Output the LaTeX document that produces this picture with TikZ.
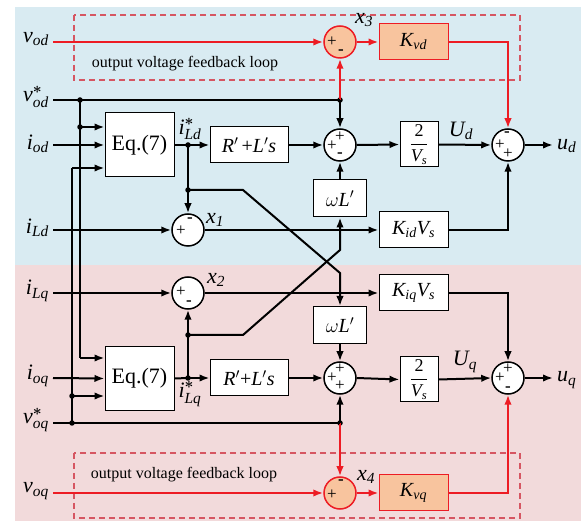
\documentclass[tikz,border=0pt]{standalone}
\usepackage{fix-cm}
\usepackage{amsmath}
\usepackage{fontspec}
\setmainfont{Liberation Serif}
\usetikzlibrary{arrows.meta,calc}
\definecolor{bgblue}{RGB}{217,235,242}
\definecolor{bgpink}{RGB}{242,218,219}
\definecolor{lred}{RGB}{237,28,36}
\definecolor{boxorange}{RGB}{248,196,158}
\definecolor{dashred}{RGB}{214,86,98}
\newcommand{\sg}[2]{$\textit{#1}_{\textit{#2}}$}
\newcommand{\sgs}[2]{$\textit{#1}^{\boldsymbol{\ast}}_{\textit{#2}}$}
\begin{document}
\begin{tikzpicture}[x=1pt,y=-1pt,
 blk/.style={draw=black, fill=white, line width=1pt, inner sep=0pt, font=\fontsize{20}{22}\selectfont},
 rblk/.style={blk, draw=lred, fill=boxorange},
 sumn/.style={circle, draw=black, fill=white, line width=1.5pt, minimum size=32pt, inner sep=0pt},
 rsum/.style={sumn, draw=lred, fill=boxorange},
 sgn/.style={inner sep=0pt, font=\fontsize{17}{17}\selectfont},
 lbl/.style={inner sep=0pt, font=\fontsize{22}{24}\selectfont},
 wire/.style={line width=2pt, draw=black},
 rwire/.style={line width=2pt, draw=lred},
 arr/.style={-{Latex[length=10pt,width=7.5pt]}},
 jdot/.style={circle, fill=black, inner sep=0pt, minimum size=5.5pt},
 fbbox/.style={draw=dashred, line width=1.1pt, dash pattern=on 6pt off 4pt},
 note/.style={inner sep=0pt, font=\fontsize{16}{18}\selectfont}
]
\useasboundingbox (0,0) rectangle (587,521);
\fill[bgblue] (15,7) rectangle (581,265);
\fill[bgpink] (15,265) rectangle (581,521);
% feedback loop frames
\draw[fbbox] (74,15) rectangle (520,80);
\draw[fbbox] (74,453) rectangle (520,518);
\node[note] (nt1) at (185,64) {output voltage feedback loop};
\node[note] (nt2) at (184,475) {output voltage feedback loop};

% input labels
\node[lbl, anchor=east] (lvod) at (49,39) {\sg{v}{od}};
\node[lbl, anchor=east] (lvsd) at (49,97) {\sgs{v}{od}};
\node[lbl, anchor=east] (liod) at (49,144) {\sg{i}{od}};
\node[lbl, anchor=east] (lild) at (49,228) {\sg{i}{Ld}};
\node[lbl, anchor=east] (lilq) at (49,291) {\sg{i}{Lq}};
\node[lbl, anchor=east] (lioq) at (49,376) {\sg{i}{oq}};
\node[lbl, anchor=east] (lvsq) at (49,420) {\sgs{v}{oq}};
\node[lbl, anchor=east] (lvoq) at (49,491) {\sg{v}{oq}};
\coordinate (ivod) at (53,42);
\coordinate (ivsd) at (53,100);
\coordinate (iiod) at (53,145);
\coordinate (iild) at (53,230);
\coordinate (iilq) at (53,293);
\coordinate (iioq) at (53,378);
\coordinate (ivsq) at (53,423);
\coordinate (ivoq) at (53,493);

% blocks
\node[blk, minimum width=69pt, minimum height=64pt, font=\fontsize{22}{24}\selectfont] (eqd) at (139.5,145) {Eq.(7)};
\node[blk, minimum width=69pt, minimum height=64pt, font=\fontsize{22}{24}\selectfont] (eqq) at (139.5,378.5) {Eq.(7)};
\node[blk, minimum width=78pt, minimum height=36pt] (rld) at (249,145) {\textit{R}$'$\,+\textit{L}$'$\textit{s}};
\node[blk, minimum width=78pt, minimum height=36pt] (rlq) at (249,378) {\textit{R}$'$+\textit{L}$'$\textit{s}};
\node[rblk, minimum width=69pt, minimum height=36pt] (kvd) at (413.5,42) {\sg{K}{vd}};
\node[blk, minimum width=69pt, minimum height=36pt] (kid) at (413.5,230) {$\textit{K}_{\textit{id}}\textit{V}_{\textit{s}}$};
\node[blk, minimum width=69pt, minimum height=36pt] (kiq) at (413.5,293) {$\textit{K}_{\textit{iq}}\textit{V}_{\textit{s}}$};
\node[rblk, minimum width=69pt, minimum height=36pt] (kvq) at (413.5,493) {\sg{K}{vq}};
\node[blk, minimum width=53pt, minimum height=37pt] (wld) at (340,198.5) {$\omega$\textit{L}$'$};
\node[blk, minimum width=53pt, minimum height=37pt] (wlq) at (340,325) {$\omega$\textit{L}$'$};
\node[blk, minimum width=38pt, minimum height=45pt, font=\fontsize{18}{20}\selectfont] (gvd) at (419,144.5) {$\dfrac{\textup{2}}{\textit{V}_{\textit{s}}}$};
\node[blk, minimum width=38pt, minimum height=45pt, font=\fontsize{18}{20}\selectfont] (gvq) at (419,379.5) {$\dfrac{\textup{2}}{\textit{V}_{\textit{s}}}$};

% summing junctions
\node[rsum] (sx3) at (340,42) {};
\node[sumn] (sd1) at (340,145) {};
\node[sumn] (sd2) at (508,145) {};
\node[sumn] (sx1) at (188,230) {};
\node[sumn] (sx2) at (188,293) {};
\node[sumn] (sq1) at (340,378) {};
\node[sumn] (sq2) at (508,378) {};
\node[rsum] (sx4) at (340,493) {};
% signs
\node[sgn] at ($(sx3)+(-8,0)$) {+};
\node[sgn] at ($(sx3)+(1,10)$) {\textbf{-}};
\node[sgn] at ($(sd1)+(0,-8)$) {+};
\node[sgn] at ($(sd1)+(-8,1)$) {+};
\node[sgn] at ($(sd1)+(0,10)$) {\textbf{-}};
\node[sgn] at ($(sd2)+(-1,-11)$) {\textbf{-}};
\node[sgn] at ($(sd2)+(-8,0)$) {+};
\node[sgn] at ($(sd2)+(0,9)$) {+};
\node[sgn] at ($(sx1)+(-7,1)$) {+};
\node[sgn] at ($(sx1)+(2,-10)$) {\textbf{-}};
\node[sgn] at ($(sx2)+(-7,-1)$) {+};
\node[sgn] at ($(sx2)+(1,10)$) {\textbf{-}};
\node[sgn] at ($(sq1)+(0,-9)$) {+};
\node[sgn] at ($(sq1)+(-8,0)$) {+};
\node[sgn] at ($(sq1)+(0,8)$) {+};
\node[sgn] at ($(sq2)+(0,-9)$) {+};
\node[sgn] at ($(sq2)+(-8,0)$) {+};
\node[sgn] at ($(sq2)+(0,11)$) {\textbf{-}};
\node[sgn] at ($(sx4)+(-8,2)$) {+};
\node[sgn] at ($(sx4)+(1,-11)$) {\textbf{-}};

% junction dots
\node[jdot] (j1) at (80,100) {};
\node[jdot] (j2) at (340,100) {};
\node[jdot] (j3) at (80,127) {};
\node[jdot] (j4) at (188,145) {};
\node[jdot] (j5) at (188,190) {};
\node[jdot] (j6) at (188,335) {};
\node[jdot] (j7) at (188,378) {};
\node[jdot] (j8) at (72,396) {};
\node[jdot] (j9) at (72,423) {};
\node[jdot] (j10) at (340,423) {};
\coordinate (c1) at (80,358);
\coordinate (c2) at (72,168);
\coordinate (bd1) at (243,190);
\coordinate (bd2) at (340,273);
\coordinate (bq1) at (243,335);
\coordinate (bq2) at (340,250);
\coordinate (od) at (553,145);
\coordinate (oq) at (553,378);

% signal labels
\node[lbl] (lx3) at (364,20) {\sg{x}{3}};
\node[lbl] (lx1) at (215,220) {\sg{x}{1}};
\node[lbl] (lx2) at (216,280) {\sg{x}{2}};
\node[lbl] (lx4) at (366,477) {\sg{x}{4}};
\node[lbl] (lud) at (461,131) {\sg{U}{d}};
\node[lbl] (luq) at (465,362) {\sg{U}{q}};
\node[lbl, anchor=west] (loud) at (557,146) {\sg{u}{d}};
\node[lbl, anchor=west] (louq) at (557,380) {\sg{u}{q}};
\node[lbl] (lild2) at (190,129) {\sgs{i}{Ld}};
\node[lbl] (lilq2) at (190,394) {\sgs{i}{Lq}};

% red feedback wires
\draw[rwire,arr] (ivod) -- (sx3.west);
\draw[rwire,arr] (sx3.east) -- (kvd.west);
\draw[rwire,arr] (kvd.east) -| (sd2.north);
\draw[rwire,arr] (j2.center) -- (sx3.south);
\draw[rwire,arr] (ivoq) -- (sx4.west);
\draw[rwire,arr] (sx4.east) -- (kvq.west);
\draw[rwire,arr] (kvq.east) -| (sq2.south);
\draw[rwire,arr] (j10.center) -- (sx4.north);

% d-axis wires
\draw[wire] (ivsd) -- (j2.center);
\draw[wire,arr] (j2.center) -- (sd1.north);
\draw[wire,arr] (iiod) -- (eqd.west);
\draw[wire,arr] (j3.center) -- (j3 -| eqd.west);
\draw[wire] (j1.center) -- (c1);
\draw[wire,arr] (c1) -- (c1 -| eqq.west);
\draw[wire] (j9.center) -- (c2);
\draw[wire,arr] (c2) -- (c2 -| eqd.west);
\draw[wire,arr] (j8.center) -- (j8 -| eqq.west);
\draw[wire] (eqd.east) -- (j4.center);
\draw[wire,arr] (j4.center) -- (rld.west);
\draw[wire,arr] (rld.east) -- (sd1.west);
\draw[wire,arr] (j4.center) -- (sx1.north);
\draw[wire,arr] (j5.center) -- (bd1) -- (bd2) -- (wlq.north);
\draw[wire,arr] (iild) -- (sx1.west);
\draw[wire,arr] (sx1.east) -- (kid.west);
\draw[wire,arr] (kid.east) -| (sd2.south);
\draw[wire,arr] (wld.north) -- (sd1.south);
\draw[wire,arr] (sd1.east) -- (gvd.west);
\draw[wire,arr] (gvd.east) -- (sd2.west);
\draw[wire,arr] (sd2.east) -- (od);

% q-axis wires
\draw[wire,arr] (iilq) -- (sx2.west);
\draw[wire,arr] (sx2.east) -- (kiq.west);
\draw[wire,arr] (kiq.east) -| (sq2.north);
\draw[wire,arr] (iioq) -- (eqq.west);
\draw[wire] (eqq.east) -- (j7.center);
\draw[wire,arr] (j7.center) -- (rlq.west);
\draw[wire,arr] (j7.center) -- (sx2.south);
\draw[wire,arr] (j6.center) -- (bq1) -- (bq2) -- (wld.south);
\draw[wire,arr] (wlq.south) -- (sq1.north);
\draw[wire,arr] (rlq.east) -- (sq1.west);
\draw[wire] (ivsq) -- (j10.center);
\draw[wire,arr] (j10.center) -- (sq1.south);
\draw[wire,arr] (sq1.east) -- (gvq.west);
\draw[wire,arr] (gvq.east) -- (sq2.west);
\draw[wire,arr] (sq2.east) -- (oq);
\end{tikzpicture}
\end{document}
